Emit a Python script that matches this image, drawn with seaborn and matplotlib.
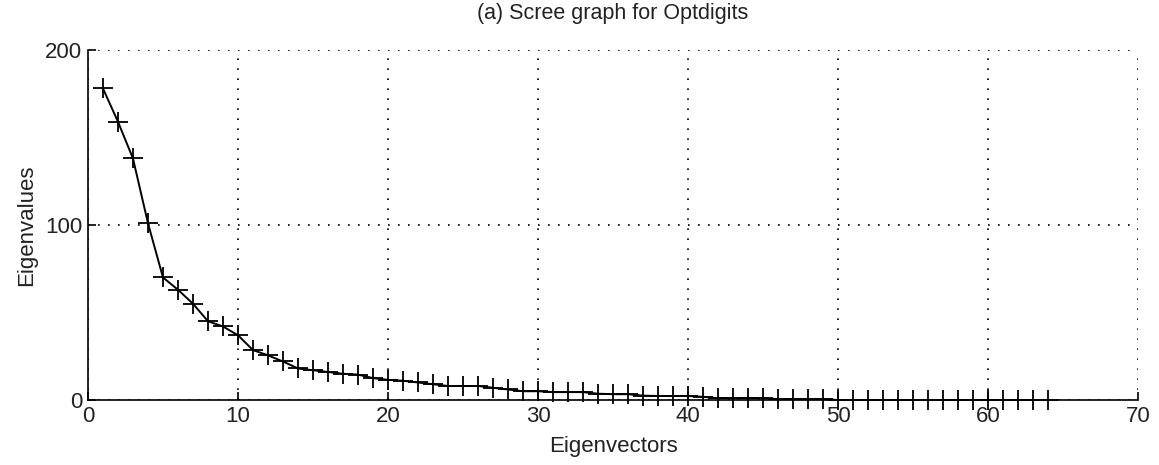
import seaborn as sns
import pandas as pd
from matplotlib import pyplot as plt

eigenvectors = list(range(1, 65))
eigenvalues = [
    178, 159, 138, 101, 70, 63, 55, 45, 42, 37,
    28.5, 25.5, 22, 18, 17, 16, 15, 14.5, 12.5, 11.5,
    11, 10, 9, 8, 8, 8, 7, 6, 5, 5,
    4.5, 4.5, 4.5, 3.6, 3.3, 3.3, 2.5, 2.3, 2.3, 2.3,
    1.8, 1, 1, 1, 1, 0.5, 0.5, 0.5, 0.5, 0,
    0, 0, 0, 0, 0, 0, 0, 0, 0, 0,
    0, 0, 0, 0,
]
x_ticks = [0, 10, 20, 30, 40, 50, 60, 70]
y_ticks = [0, 100, 200]

df = pd.DataFrame({"eigenvector": eigenvectors, "eigenvalue": eigenvalues})

sns.set_style("white")
plt.rcParams['font.family'] = ['Liberation Sans', 'DejaVu Sans']

fig = plt.figure(figsize=(11.59, 4.65), dpi=100)
ax = fig.add_axes([0.0759, 0.1398, 0.9061, 0.7527])

sns.lineplot(data=df, x="eigenvector", y="eigenvalue", ax=ax, color="black",
             linewidth=1.4, marker="+", markersize=14, markeredgewidth=1.3,
             markeredgecolor="black", clip_on=False)

ax.set_xlim(0, 70)
ax.set_ylim(0, 200)
ax.set_xticks(x_ticks)
ax.set_yticks(y_ticks)
ax.grid(True, color="black", linestyle=(0, (1, 5)), linewidth=1.2)
ax.tick_params(direction="in", length=6, width=1.2, labelsize=16,
               color="black", labelcolor="#222222", left=True, bottom=True,
               pad=4)
for side in ["top", "right"]:
    ax.spines[side].set_visible(False)
for side in ["left", "bottom"]:
    ax.spines[side].set_color("black")
    ax.spines[side].set_linewidth(1.2)

ax.set_xlabel("Eigenvectors", fontsize=16, color="#222222", labelpad=7)
ax.set_ylabel("Eigenvalues", fontsize=16, color="#222222", labelpad=6)
ax.set_title("(a) Scree graph for Optdigits", fontsize=15.5, color="#222222", pad=22)

fig.savefig("out.png", dpi=100)
